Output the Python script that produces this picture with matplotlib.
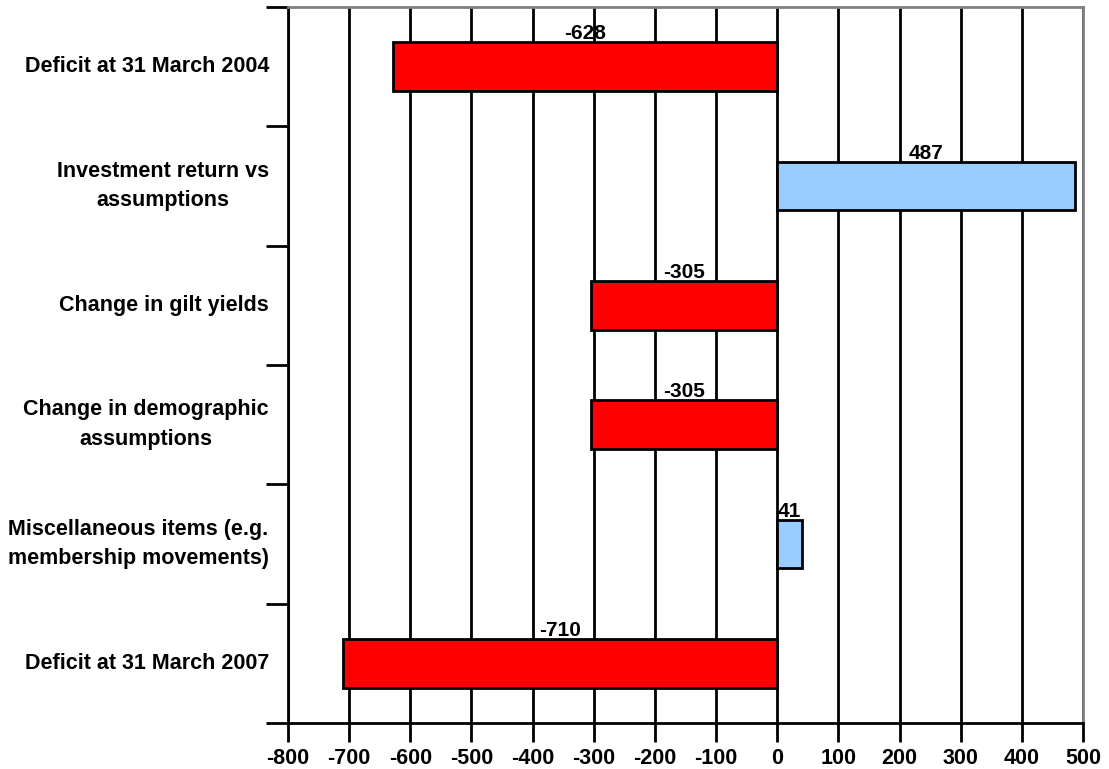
import matplotlib.pyplot as plt
import numpy as np

plt.rcParams['font.family'] = ['Liberation Sans', 'DejaVu Sans']
plt.rcParams['font.weight'] = 'bold'

categories = ['Deficit at 31 March 2004',
              'Investment return vs\nassumptions',
              'Change in gilt yields',
              'Change in demographic\nassumptions',
              'Miscellaneous items (e.g.\nmembership movements)',
              'Deficit at 31 March 2007']
values = [-628, 487, -305, -305, 41, -710]
xticks = np.arange(-800, 501, 100)

fig = plt.figure(figsize=(11.09, 7.69), dpi=100)
ax = fig.add_axes([0.2597, 0.0598, 0.9766 - 0.2597, 0.9909 - 0.0598])

pos = np.arange(len(categories))
colors = ['#FF0000' if v < 0 else '#99CCFF' for v in values]

# vertical grid lines behind the bars
for t in xticks:
    ax.axvline(t, color='black', lw=2, zorder=1)

ax.barh(pos, values, height=0.41, color=colors, edgecolor='black', lw=2, zorder=3)

for p, v in zip(pos, values):
    ax.text(v / 2, p - 0.205 - 0.025, str(v), ha='center', va='baseline',
            fontsize=15, fontweight='bold', zorder=4)

ax.set_xlim(-800, 500)
ax.set_ylim(len(categories) - 0.5, -0.5)
ax.set_xticks(xticks)
ax.set_xticklabels([str(t) for t in xticks], fontsize=15.5, fontweight='bold')

# category ticks sit between bars, labels in the middle
ax.set_yticks(np.arange(-0.5, len(categories), 1))
ax.set_yticklabels([])
ax.tick_params(axis='y', length=16, width=2, direction='out')
ax.tick_params(axis='x', length=14, width=2, direction='out', pad=4)
for p, c in zip(pos, categories):
    ax.text(-0.024, p, c, transform=ax.get_yaxis_transform(), ha='right', va='center',
            multialignment='center', linespacing=1.55, fontsize=15.5, fontweight='bold')

for s in ['left', 'bottom']:
    ax.spines[s].set_linewidth(2)
    ax.spines[s].set_color('black')
for s in ['top', 'right']:
    ax.spines[s].set_linewidth(2)
    ax.spines[s].set_color('#808080')

fig.savefig('out.png', dpi=100)
